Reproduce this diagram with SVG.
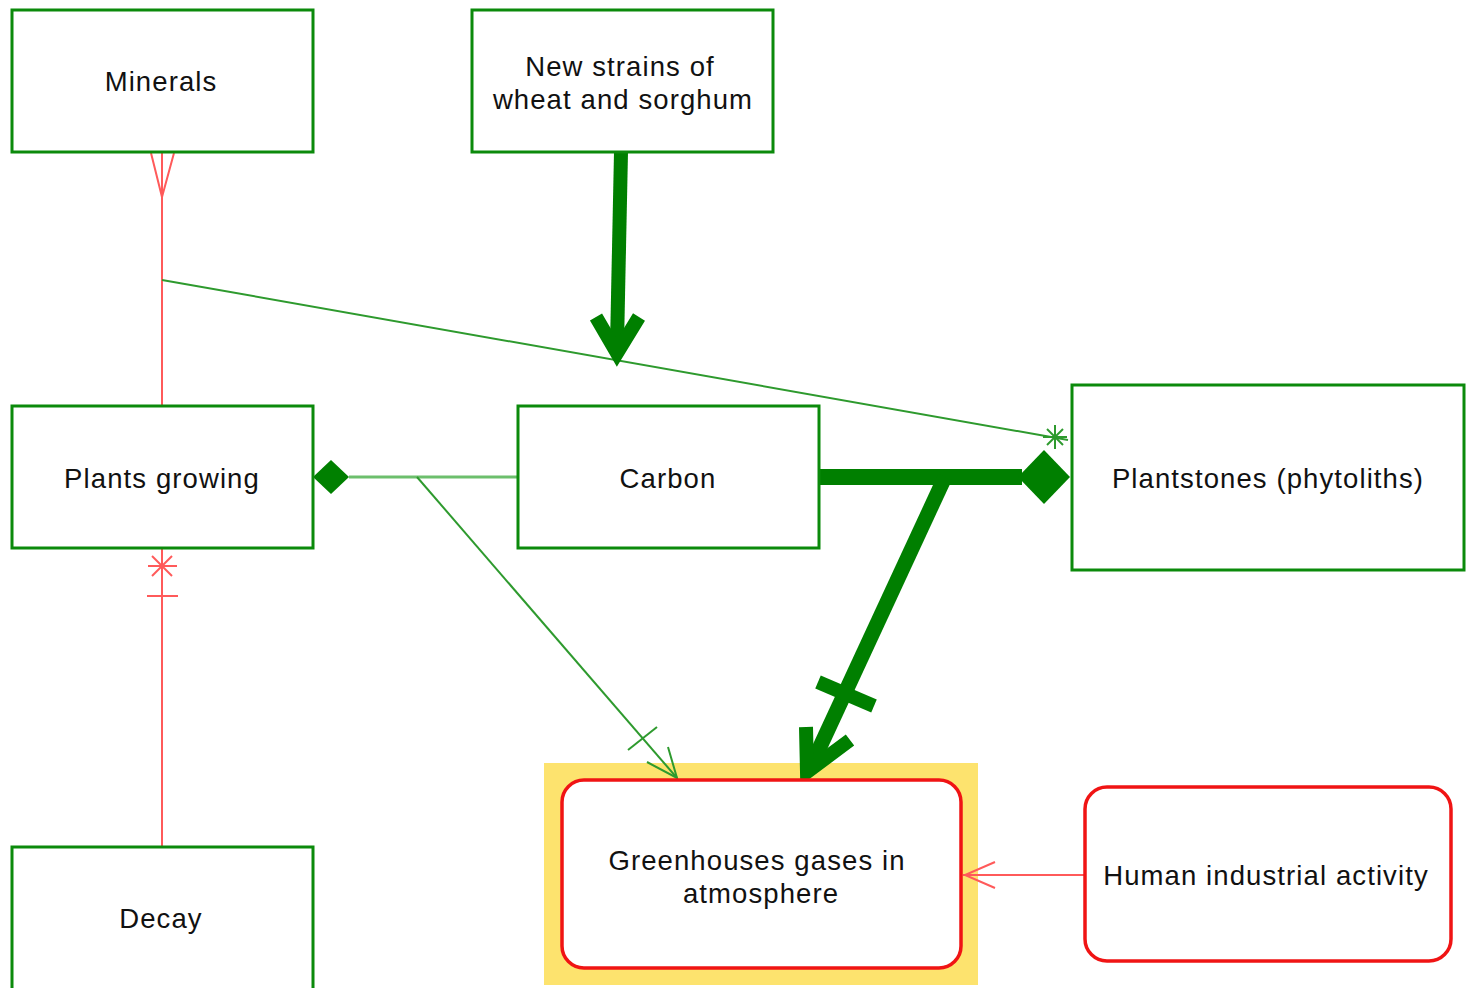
<svg xmlns="http://www.w3.org/2000/svg" width="1470" height="988" viewBox="0 0 1470 988">
<style>
.box{fill:#fff;stroke:#0b8a0b;stroke-width:3}
.rbox{fill:#fff;stroke:#f01414;stroke-width:3.5}
.t{font-family:"Liberation Sans",Arial,sans-serif;font-size:27.5px;letter-spacing:1.1px;fill:#111;text-anchor:middle}
.red{stroke:#ff5a5a;stroke-width:2;fill:none}
.thin{stroke:#2e9a2e;stroke-width:2;fill:none}
.thick{stroke:#007f00;fill:none;stroke-linejoin:miter}
</style>
<rect x="0" y="0" width="1470" height="988" fill="#fff"/>
<rect x="544" y="763" width="434" height="222" fill="#fde36e"/>
<g id="connectors">
  <!-- Minerals - Plants growing -->
  <line class="red" x1="162" y1="152" x2="162" y2="406"/>
  <polyline class="red" points="151,153 162,197 174,153"/>
  <!-- line to Plantstones -->
  <line class="thin" x1="162" y1="280" x2="1068" y2="440"/>
  <g class="thin" stroke-width="1.6">
    <line x1="1043" y1="437" x2="1067" y2="437"/>
    <line x1="1055" y1="425" x2="1055" y2="449"/>
    <line x1="1047" y1="429" x2="1063" y2="445"/>
    <line x1="1047" y1="445" x2="1063" y2="429"/>
  </g>
  <!-- New strains -> Carbon -->
  <polygon points="614,152 628,152 624,345 610,345" fill="#007f00"/>
  <polyline class="thick" stroke-width="14" points="596,317 617,353 639,317"/>
  <!-- Carbon - Plants growing -->
  <line x1="349" y1="477" x2="518" y2="477" stroke="#6cbf6c" stroke-width="3"/>
  <polygon points="313,477 331,460 349,477 331,494" fill="#008000"/>
  <!-- branch to Greenhouse -->
  <line class="thin" x1="417" y1="477" x2="677" y2="778"/>
  <line class="thin" x1="628" y1="750" x2="657" y2="727"/>
  <polyline class="thin" points="647,762 677,778 668,747"/>
  <!-- Carbon - Plantstones -->
  <line x1="819" y1="477" x2="1022" y2="477" stroke="#007f00" stroke-width="16"/>
  <polygon points="1018,477 1044,450 1070,477 1044,504" fill="#007f00"/>
  <!-- branch thick to Greenhouse -->
  <line x1="945" y1="477" x2="813" y2="762" stroke="#007f00" stroke-width="15"/>
  <line x1="818" y1="682" x2="874" y2="706" stroke="#007f00" stroke-width="14"/>
  <polyline class="thick" stroke-width="14" points="806,727 807,772 850,740"/>
  <!-- Plants growing - Decay -->
  <line class="red" x1="162" y1="548" x2="162" y2="847"/>
  <g class="red">
    <line x1="148" y1="566" x2="177" y2="566"/>
    <line x1="162" y1="553" x2="162" y2="580"/>
    <line x1="152" y1="556" x2="172" y2="576"/>
    <line x1="152" y1="576" x2="172" y2="556"/>
    <line x1="147" y1="596" x2="178" y2="596"/>
  </g>
  <!-- Human -> Greenhouse -->
  <line class="red" x1="963" y1="875" x2="1085" y2="875"/>
  <polyline class="red" points="995,862 965,875 995,888"/>
</g>
<g id="minerals"><rect class="box" x="12" y="10" width="301" height="142"/><text class="t" x="161" y="91">Minerals</text></g>
<g id="newstrains"><rect class="box" x="472" y="10" width="301" height="142"/><text class="t" x="620" y="76">New strains of</text><text class="t" x="623" y="109">wheat and sorghum</text></g>
<g id="plants"><rect class="box" x="12" y="406" width="301" height="142"/><text class="t" x="162" y="488">Plants growing</text></g>
<g id="carbon"><rect class="box" x="518" y="406" width="301" height="142"/><text class="t" x="668" y="488">Carbon</text></g>
<g id="plantstones"><rect class="box" x="1072" y="385" width="392" height="185"/><text class="t" x="1268" y="488">Plantstones (phytoliths)</text></g>
<g id="decay"><rect class="box" x="12" y="847" width="301" height="150"/><text class="t" x="161" y="928">Decay</text></g>
<g id="greenhouse"><rect class="rbox" x="562" y="780" width="399" height="188" rx="22"/><text class="t" x="757" y="870">Greenhouses gases in</text><text class="t" x="761" y="903">atmosphere</text></g>
<g id="human"><rect class="rbox" x="1085" y="787" width="366" height="174" rx="22"/><text class="t" x="1266" y="885">Human industrial activity</text></g>
</svg>
